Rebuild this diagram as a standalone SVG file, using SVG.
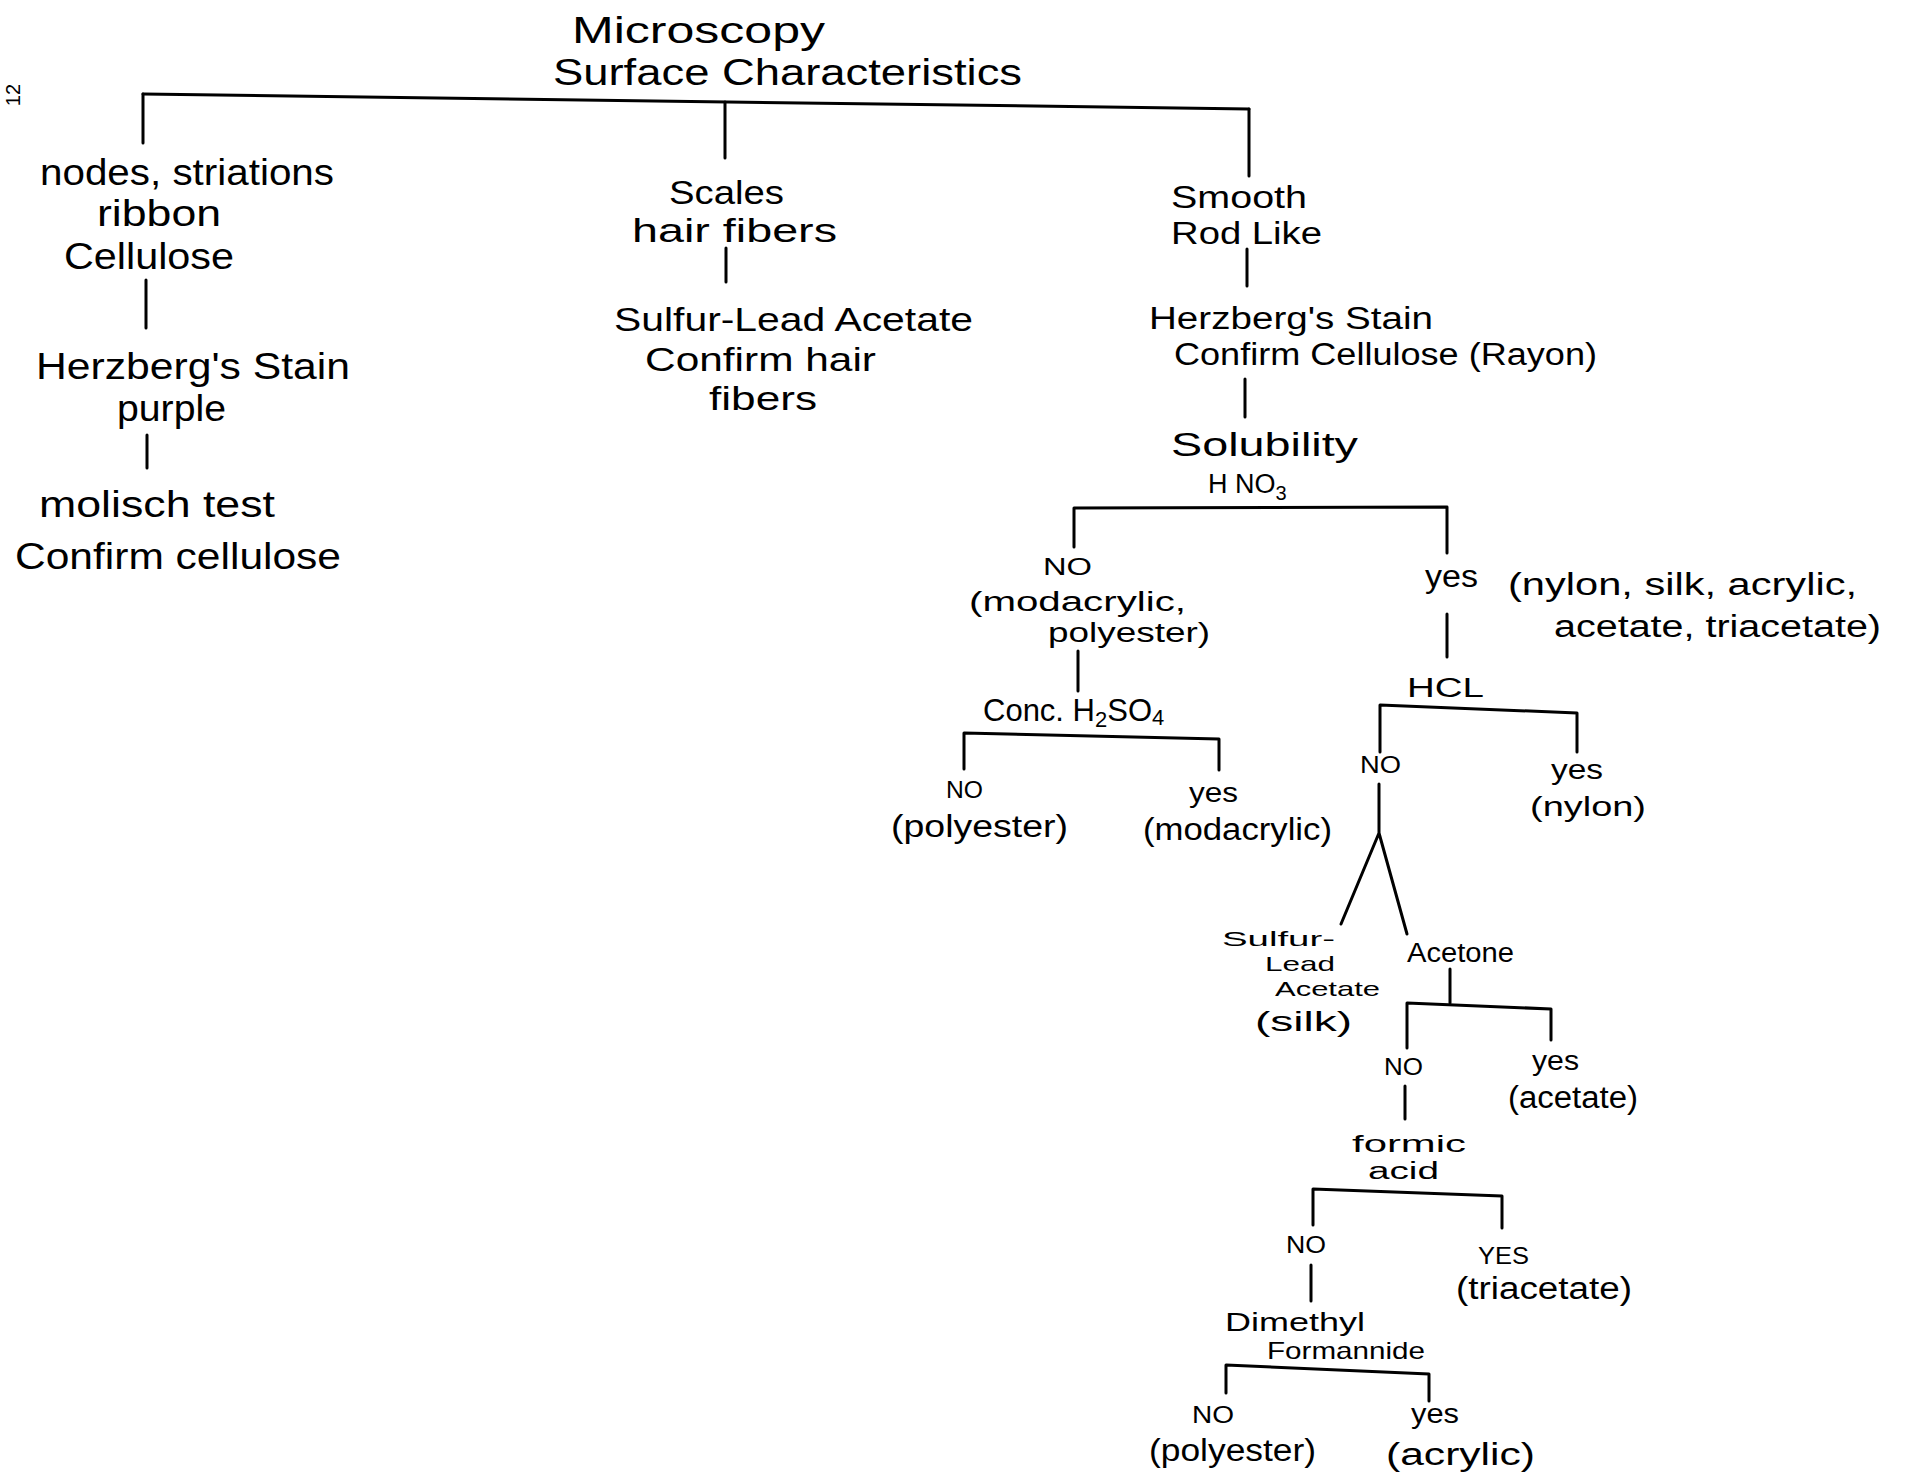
<svg xmlns="http://www.w3.org/2000/svg" width="1907" height="1478" viewBox="0 0 1907 1478">
<style>
text{font-family:"Liberation Sans","DejaVu Sans",sans-serif;fill:#000;}
.c{fill:none;stroke:#000;stroke-width:3;stroke-linecap:round;stroke-linejoin:round;}
.t0{font-size:37px}.t1{font-size:36px}.t1b{font-size:33px}.t2{font-size:31px}.t3{font-size:27px}.t4{font-size:24px}.t5{font-size:21px}
</style>
<rect width="1907" height="1478" fill="#fff"/>
<g id="connectors">
<path class="c" d="M143,94 L1249,109"/>
<path class="c" d="M143,94 V143"/>
<path class="c" d="M725,102 V158"/>
<path class="c" d="M1249,109 V176"/>
<path class="c" d="M146,280 V328"/>
<path class="c" d="M147,435 V468"/>
<path class="c" d="M726,248 V282"/>
<path class="c" d="M1247,249 V286"/>
<path class="c" d="M1245,379 V417"/>
<path class="c" d="M1074,547 V508 L1447,507 V553"/>
<path class="c" d="M1447,614 V657"/>
<path class="c" d="M1078,651 V691"/>
<path class="c" d="M964,769 V733 L1219,739 V770"/>
<path class="c" d="M1380,752 V705 L1577,713 V752"/>
<path class="c" d="M1379,784 V833 M1379,833 L1341,924 M1379,833 L1407,934"/>
<path class="c" d="M1450,969 V1003"/>
<path class="c" d="M1407,1048 V1003 L1551,1009 V1040"/>
<path class="c" d="M1405,1086 V1119"/>
<path class="c" d="M1313,1225 V1189 L1502,1196 V1228"/>
<path class="c" d="M1311,1265 V1301"/>
<path class="c" d="M1226,1393 V1365 L1429,1374 V1401"/>
</g>
<g id="pagenum"><text font-size="20" transform="translate(20,95) rotate(-90)" text-anchor="middle">12</text></g>
<g id="root">
<text class="t0" x="572" y="43" textLength="253" lengthAdjust="spacingAndGlyphs">Microscopy</text>
<text class="t0" x="553" y="85" textLength="469" lengthAdjust="spacingAndGlyphs">Surface Characteristics</text>
</g>
<g id="n-nodes">
<text class="t1" x="40" y="185" textLength="294" lengthAdjust="spacingAndGlyphs">nodes, striations</text>
<text class="t1" x="97" y="226" textLength="124" lengthAdjust="spacingAndGlyphs">ribbon</text>
<text class="t1" x="64" y="269" textLength="170" lengthAdjust="spacingAndGlyphs">Cellulose</text>
</g>
<g id="n-herz-left">
<text class="t1" x="36" y="379" textLength="314" lengthAdjust="spacingAndGlyphs">Herzberg's Stain</text>
<text class="t1" x="117" y="421" textLength="109" lengthAdjust="spacingAndGlyphs">purple</text>
</g>
<g id="n-molisch">
<text class="t1" x="39" y="517" textLength="236" lengthAdjust="spacingAndGlyphs">molisch test</text>
<text class="t1" x="15" y="569" textLength="326" lengthAdjust="spacingAndGlyphs">Confirm cellulose</text>
</g>
<g id="n-scales">
<text class="t1b" x="669" y="204" textLength="115" lengthAdjust="spacingAndGlyphs">Scales</text>
<text class="t1b" x="632" y="242" textLength="205" lengthAdjust="spacingAndGlyphs">hair fibers</text>
</g>
<g id="n-sulfur-mid">
<text class="t1b" x="614" y="331" textLength="359" lengthAdjust="spacingAndGlyphs">Sulfur-Lead Acetate</text>
<text class="t1b" x="645" y="371" textLength="231" lengthAdjust="spacingAndGlyphs">Confirm hair</text>
<text class="t1b" x="709" y="410" textLength="108" lengthAdjust="spacingAndGlyphs">fibers</text>
</g>
<g id="n-smooth">
<text class="t2" x="1171" y="208" textLength="136" lengthAdjust="spacingAndGlyphs">Smooth</text>
<text class="t2" x="1171" y="244" textLength="151" lengthAdjust="spacingAndGlyphs">Rod Like</text>
</g>
<g id="n-herz-right">
<text class="t2" x="1149" y="329" textLength="284" lengthAdjust="spacingAndGlyphs">Herzberg's Stain</text>
<text class="t2" x="1174" y="365" textLength="423" lengthAdjust="spacingAndGlyphs">Confirm Cellulose (Rayon)</text>
</g>
<g id="n-solubility">
<text class="t1b" x="1171" y="456" textLength="187" lengthAdjust="spacingAndGlyphs">Solubility</text>
<text class="t3" x="1208" y="493">H NO<tspan font-size="20" dy="7">3</tspan></text>
</g>
<g id="n-no-1">
<text class="t4" x="1043" y="575" textLength="49" lengthAdjust="spacingAndGlyphs">NO</text>
<text class="t3" x="969" y="611" textLength="217" lengthAdjust="spacingAndGlyphs">(modacrylic,</text>
<text class="t3" x="1048" y="642" textLength="162" lengthAdjust="spacingAndGlyphs">polyester)</text>
</g>
<g id="n-conc">
<text class="t2" x="983" y="721">Conc. H<tspan font-size="22" dy="6">2</tspan><tspan dy="-6">SO</tspan><tspan font-size="22" dy="4">4</tspan></text>
</g>
<g id="n-no-poly">
<text class="t4" x="946" y="798" textLength="37" lengthAdjust="spacingAndGlyphs">NO</text>
<text class="t2" x="891" y="837" textLength="177" lengthAdjust="spacingAndGlyphs">(polyester)</text>
</g>
<g id="n-yes-modac">
<text class="t3" x="1189" y="802" textLength="49" lengthAdjust="spacingAndGlyphs">yes</text>
<text class="t2" x="1143" y="840" textLength="189" lengthAdjust="spacingAndGlyphs">(modacrylic)</text>
</g>
<g id="n-yes-1">
<text class="t2" x="1425" y="587" textLength="53" lengthAdjust="spacingAndGlyphs">yes</text>
<text class="t2" x="1508" y="595" textLength="349" lengthAdjust="spacingAndGlyphs">(nylon, silk, acrylic,</text>
<text class="t2" x="1554" y="637" textLength="327" lengthAdjust="spacingAndGlyphs">acetate, triacetate)</text>
</g>
<g id="n-hcl">
<text class="t3" x="1407" y="697" textLength="77" lengthAdjust="spacingAndGlyphs">HCL</text>
</g>
<g id="n-no-hcl">
<text class="t4" x="1360" y="773" textLength="41" lengthAdjust="spacingAndGlyphs">NO</text>
</g>
<g id="n-yes-nylon">
<text class="t3" x="1551" y="779" textLength="52" lengthAdjust="spacingAndGlyphs">yes</text>
<text class="t3" x="1530" y="816" textLength="116" lengthAdjust="spacingAndGlyphs">(nylon)</text>
</g>
<g id="n-sulfur-silk">
<text class="t5" x="1222" y="946" textLength="113" lengthAdjust="spacingAndGlyphs">Sulfur-</text>
<text class="t5" x="1265" y="971" textLength="70" lengthAdjust="spacingAndGlyphs">Lead</text>
<text class="t5" x="1275" y="996" textLength="105" lengthAdjust="spacingAndGlyphs">Acetate</text>
<text class="t3" x="1255" y="1031" textLength="97" lengthAdjust="spacingAndGlyphs">(silk)</text>
</g>
<g id="n-acetone">
<text class="t3" x="1407" y="962" textLength="107" lengthAdjust="spacingAndGlyphs">Acetone</text>
</g>
<g id="n-no-acetone">
<text class="t4" x="1384" y="1075" textLength="39" lengthAdjust="spacingAndGlyphs">NO</text>
</g>
<g id="n-yes-acetate">
<text class="t3" x="1532" y="1070" textLength="47" lengthAdjust="spacingAndGlyphs">yes</text>
<text class="t2" x="1508" y="1108" textLength="130" lengthAdjust="spacingAndGlyphs">(acetate)</text>
</g>
<g id="n-formic">
<text class="t4" x="1352" y="1152" textLength="114" lengthAdjust="spacingAndGlyphs">formic</text>
<text font-size="23" x="1368" y="1179" textLength="71" lengthAdjust="spacingAndGlyphs">acid</text>
</g>
<g id="n-no-formic">
<text class="t4" x="1286" y="1253" textLength="40" lengthAdjust="spacingAndGlyphs">NO</text>
</g>
<g id="n-yes-triacetate">
<text class="t4" x="1478" y="1264" textLength="51" lengthAdjust="spacingAndGlyphs">YES</text>
<text class="t2" x="1456" y="1299" textLength="176" lengthAdjust="spacingAndGlyphs">(triacetate)</text>
</g>
<g id="n-dmf">
<text font-size="26" x="1225" y="1331" textLength="140" lengthAdjust="spacingAndGlyphs">Dimethyl</text>
<text class="t4" x="1267" y="1359" textLength="158" lengthAdjust="spacingAndGlyphs">Formannide</text>
</g>
<g id="n-no-dmf">
<text class="t4" x="1192" y="1423" textLength="42" lengthAdjust="spacingAndGlyphs">NO</text>
<text class="t2" x="1149" y="1461" textLength="167" lengthAdjust="spacingAndGlyphs">(polyester)</text>
</g>
<g id="n-yes-dmf">
<text class="t3" x="1411" y="1423" textLength="48" lengthAdjust="spacingAndGlyphs">yes</text>
<text class="t2" x="1386" y="1465" textLength="149" lengthAdjust="spacingAndGlyphs">(acrylic)</text>
</g>
</svg>
